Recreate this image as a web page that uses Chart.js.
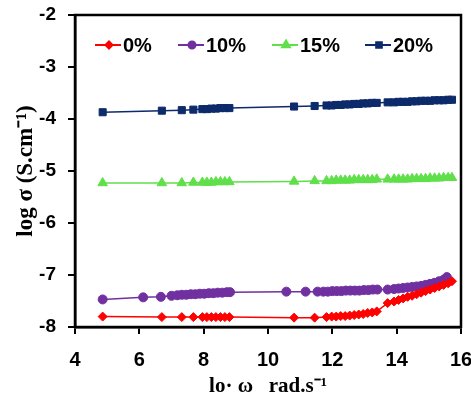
<!DOCTYPE html>
<html>
<head>
<meta charset="utf-8">
<script src="https://cdn.jsdelivr.net/npm/chart.js@4.4.1/dist/chart.umd.min.js"></script>
<style>
  html, body { margin: 0; padding: 0; background: #fff; }
  #wrap { width: 471px; height: 399px; }
</style>
</head>
<body>
<div id="wrap"><canvas id="myChart" width="471" height="399"></canvas></div>
<script>
// log ω values shared by 0%, 15% and 20%
const logW = [4.86, 6.70, 7.32, 7.68, 7.96, 8.10, 8.24, 8.38, 8.52, 8.66, 8.80,
  10.81, 11.45, 11.82, 11.98, 12.12, 12.26, 12.40, 12.54, 12.68, 12.82, 12.96,
  13.10, 13.24, 13.38, 13.72, 13.92, 14.06, 14.20, 14.34, 14.48, 14.62, 14.76,
  14.90, 15.04, 15.18, 15.32, 15.46, 15.60, 15.72];

// log ω values for 10%
const logW10 = [4.86, 6.12, 6.67, 7.00, 7.18, 7.32, 7.46, 7.60, 7.74, 7.88, 8.02,
  8.16, 8.30, 8.44, 8.58, 8.72, 8.82, 10.57, 11.17, 11.54, 11.72, 11.86, 12.00,
  12.14, 12.28, 12.42, 12.56, 12.70, 12.84, 12.98, 13.12, 13.26, 13.40, 13.72,
  13.92, 14.06, 14.20, 14.34, 14.48, 14.62, 14.76, 14.90, 15.04, 15.18, 15.32,
  15.46, 15.56];

const sigma0 = [-7.80, -7.81, -7.81, -7.81, -7.81, -7.81, -7.81, -7.81, -7.81, -7.81, -7.81,
  -7.82, -7.82, -7.81, -7.80, -7.80, -7.79, -7.79, -7.78, -7.77, -7.76, -7.75,
  -7.73, -7.72, -7.70, -7.54, -7.51, -7.48, -7.45, -7.42, -7.40, -7.37, -7.34,
  -7.31, -7.28, -7.25, -7.22, -7.19, -7.16, -7.12];

const sigma10 = [-7.47, -7.43, -7.42, -7.40, -7.39, -7.38, -7.38, -7.37, -7.37, -7.36, -7.36,
  -7.35, -7.35, -7.34, -7.34, -7.33, -7.33, -7.32, -7.32, -7.32, -7.32, -7.32, -7.31,
  -7.31, -7.31, -7.30, -7.30, -7.30, -7.30, -7.29, -7.29, -7.28, -7.28, -7.28,
  -7.27, -7.26, -7.25, -7.24, -7.23, -7.22, -7.21, -7.19, -7.17, -7.15, -7.12,
  -7.09, -7.04];

const sigma15 = [-5.23, -5.23, -5.23, -5.22, -5.22, -5.22, -5.22, -5.21, -5.21, -5.21, -5.21,
  -5.20, -5.19, -5.19, -5.19, -5.18, -5.18, -5.18, -5.18, -5.17, -5.17, -5.17,
  -5.17, -5.17, -5.16, -5.16, -5.16, -5.16, -5.16, -5.16, -5.15, -5.15, -5.15,
  -5.15, -5.14, -5.14, -5.14, -5.13, -5.13, -5.13];

const sigma20 = [-3.87, -3.84, -3.83, -3.82, -3.81, -3.81, -3.80, -3.80, -3.79, -3.79, -3.79,
  -3.76, -3.75, -3.74, -3.74, -3.73, -3.73, -3.72, -3.72, -3.71, -3.71, -3.70,
  -3.70, -3.69, -3.69, -3.68, -3.68, -3.67, -3.67, -3.67, -3.66, -3.66, -3.65,
  -3.65, -3.65, -3.64, -3.64, -3.64, -3.63, -3.63];

const seriesNames = ["0%", "10%", "15%", "20%"];
const xTicks = [4, 6, 8, 10, 12, 14, 16];
const yTicks = [-8, -7, -6, -5, -4, -3, -2];

const toPoints = (xs, ys) => xs.map((x, i) => ({ x: x, y: ys[i] }));

const styles = [
  { color: "#ff0000", pointStyle: "rectRot", radius: 4.5 },
  { color: "#7030a0", pointStyle: "circle", radius: 4.5 },
  { color: "#5fe04a", pointStyle: "triangle", radius: 5.5 },
  { color: "#0d2a6b", pointStyle: "rect", radius: 5 },
];

const boxPlugin = {
  id: "box",
  afterDraw(chart) {
    const { ctx, chartArea } = chart;
    ctx.save();
    ctx.strokeStyle = "#000";
    ctx.lineWidth = 2.5;
    ctx.strokeRect(chartArea.left, chartArea.top, chartArea.right - chartArea.left, chartArea.bottom - chartArea.top);
    ctx.restore();
  },
};

// legend drawn inside the plot, one row
const legendStarts = [95, 178, 272, 365];
const legendPlugin = {
  id: "inlineLegend",
  afterDatasetsDraw(chart) {
    const { ctx } = chart;
    const y = 45;
    ctx.save();
    ctx.font = "bold 20px 'Liberation Sans', Arial, sans-serif";
    ctx.textBaseline = "middle";
    chart.data.datasets.forEach((ds, i) => {
      const x = legendStarts[i];
      ctx.strokeStyle = ds.borderColor;
      ctx.lineWidth = 2;
      ctx.beginPath();
      ctx.moveTo(x, y);
      ctx.lineTo(x + 26, y);
      ctx.stroke();
      ctx.fillStyle = ds.backgroundColor;
      Chart.helpers.drawPoint(ctx, { pointStyle: ds.pointStyle, radius: ds.pointRadius - 1, borderWidth: 1 }, x + 14, y);
      ctx.fillStyle = "#000";
      ctx.fillText(ds.label, x + 28, y + 1);
    });
    ctx.restore();
  },
};

const datasets = [
  toPoints(logW, sigma0),
  toPoints(logW10, sigma10),
  toPoints(logW, sigma15),
  toPoints(logW, sigma20),
].map((pts, i) => ({
  label: seriesNames[i],
  data: pts,
  borderColor: styles[i].color,
  backgroundColor: styles[i].color,
  pointStyle: styles[i].pointStyle,
  pointRadius: styles[i].radius,
  pointBorderWidth: 1,
  borderWidth: 1.5,
  showLine: true,
  fill: false,
}));

const xTickFont = { family: "'Liberation Sans', Arial, sans-serif", size: 20, weight: "bold" };
const yTickFont = { family: "'Liberation Sans', Arial, sans-serif", size: 19, weight: "bold" };
const xTitleFont = { family: "'Liberation Serif', 'Times New Roman', serif", size: 21, weight: "bold" };
const yTitleFont = { family: "'Liberation Serif', 'Times New Roman', serif", size: 23, weight: "bold" };

const ctx = document.getElementById("myChart").getContext("2d");
const myChart = new Chart(ctx, {
  type: "scatter",
  data: { datasets: datasets },
  options: {
    responsive: false,
    animation: false,
    layout: { padding: { top: 15, right: 10, left: 0, bottom: 0 } },
    plugins: {
      legend: { display: false },
      tooltip: { enabled: false },
    },
    scales: {
      x: {
        type: "linear",
        min: 4,
        max: 16,
        afterBuildTicks: (scale) => { scale.ticks = xTicks.map((v) => ({ value: v })); },
        afterFit: (scale) => {
          scale.height = 72;
          scale.paddingLeft = 0;
          scale.paddingRight = 0;
        },
        grid: { display: true, drawOnChartArea: false, drawTicks: true, tickLength: 7, color: "#000", lineWidth: 2 },
        border: { display: true, color: "#000", width: 2.5 },
        ticks: { color: "#000", font: xTickFont, padding: 14, maxRotation: 0 },
        title: { display: true, text: "lo\u00b7 \u03c9   rad.s\u207b\u00b9", color: "#000", font: xTitleFont, padding: { top: 5, bottom: 0 } },
      },
      y: {
        type: "linear",
        min: -8,
        max: -2,
        afterBuildTicks: (scale) => { scale.ticks = yTicks.map((v) => ({ value: v })); },
        afterFit: (scale) => {
          scale.width = 75;
          scale.paddingTop = 0;
          scale.paddingBottom = 0;
        },
        grid: { display: true, drawOnChartArea: false, drawTicks: true, tickLength: 7, color: "#000", lineWidth: 2 },
        border: { display: true, color: "#000", width: 2.5 },
        ticks: { color: "#000", font: yTickFont, padding: 12 },
        title: { display: true, text: "log \u03c3 (S.cm\u207b\u00b9)", color: "#000", font: yTitleFont, padding: { top: 12, bottom: 0 } },
      },
    },
  },
  plugins: [boxPlugin, legendPlugin],
});
</script>
</body>
</html>
